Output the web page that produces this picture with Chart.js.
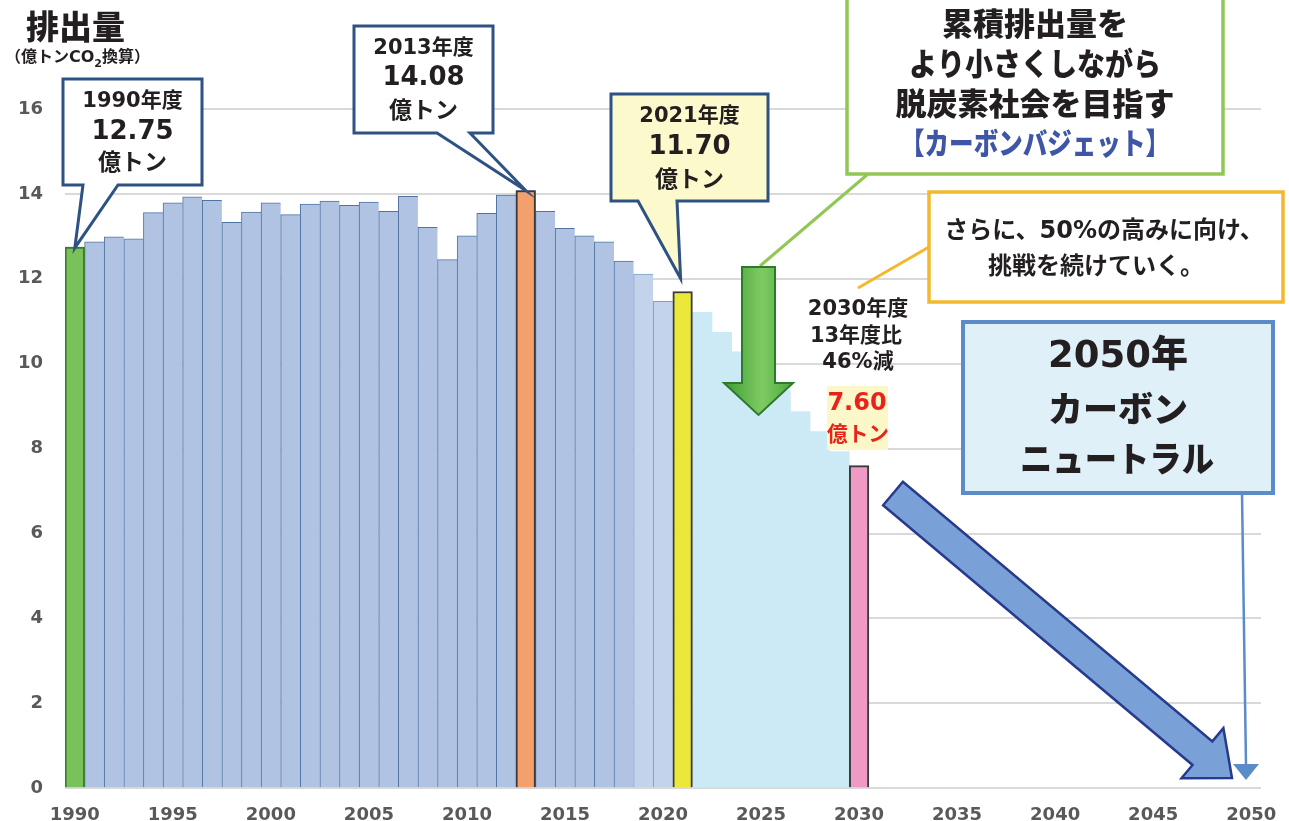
<!DOCTYPE html>
<html lang="ja">
<head>
<meta charset="utf-8">
<title>排出量</title>
<script src="https://cdn.jsdelivr.net/npm/chart.js@4.4.1/dist/chart.umd.min.js"></script>
<style>
  html, body { margin: 0; padding: 0; background: #fff; }
  canvas { display: block; }
</style>
</head>
<body>
<canvas id="emissionsChart" width="1289" height="821"></canvas>
<script>
// categories (fiscal years)
const years = [
  '1990','1991','1992','1993','1994','1995','1996','1997','1998','1999',
  '2000','2001','2002','2003','2004','2005','2006','2007','2008','2009',
  '2010','2011','2012','2013','2014','2015','2016','2017','2018','2019',
  '2020','2021','2022','2023','2024','2025','2026','2027','2028','2029',
  '2030','2031','2032','2033','2034','2035','2036','2037','2038','2039',
  '2040','2041','2042','2043','2044','2045','2046','2047','2048','2049',
  '2050'
];
const tickYears = ['1990','1995','2000','2005','2010','2015','2020','2025','2030','2035','2040','2045','2050'];

// actual emissions 1990-2020 (億トンCO2)
const historyYears = years.slice(0, 31);
const historyValues = [
  12.75, 12.87, 12.99, 12.94, 13.56, 13.79, 13.93, 13.85, 13.33, 13.57,
  13.79, 13.51, 13.76, 13.83, 13.73, 13.81, 13.59, 13.94, 13.21, 12.45,
  13.01, 13.54, 13.97, 14.08, 13.59, 13.19, 13.01, 12.87, 12.42, 12.11,
  11.47
];
const lightYears = ['2019', '2020'];

// reduction path toward 2030
const pathwayYears = ['2022','2023','2024','2025','2026','2027','2028','2029'];
const pathwayValues = [11.21, 10.74, 10.28, 9.82, 9.37, 8.87, 8.40, 7.93];

// highlighted years
const markYears = ['1990', '2013', '2021', '2030'];
const markValues = [12.75, 14.08, 11.70, 7.60];
const markColors = ['#79c25a', '#f4a06c', '#ece83a', '#ee9ac4'];
const markBorders = ['#3c7d2d', '#3a3a3a', '#3a3a3a', '#3a3a3a'];

const LATIN_JP = "'DejaVu Sans', 'Noto Sans CJK JP', sans-serif";
const JP = "'Noto Sans CJK JP', sans-serif";

function text(ctx, str, x, y, font, color, maxW, align) {
    ctx.font = font;
    ctx.fillStyle = color;
    ctx.textAlign = align || 'center';
    ctx.textBaseline = 'middle';
    if (maxW) ctx.fillText(str, x, y, maxW);
    else ctx.fillText(str, x, y);
}

function callout(ctx, box, tailL, tailR, tip, fill, stroke) {
    ctx.beginPath();
    ctx.moveTo(box.l, box.t);
    ctx.lineTo(box.r, box.t);
    ctx.lineTo(box.r, box.b);
    ctx.lineTo(tailR, box.b);
    ctx.lineTo(tip.x, tip.y);
    ctx.lineTo(tailL, box.b);
    ctx.lineTo(box.l, box.b);
    ctx.closePath();
    ctx.fillStyle = fill;
    ctx.fill();
    ctx.lineWidth = 3;
    ctx.lineJoin = 'miter';
    ctx.strokeStyle = stroke;
    ctx.stroke();
}

function line(ctx, x1, y1, x2, y2, color, w) {
    ctx.beginPath();
    ctx.moveTo(x1, y1);
    ctx.lineTo(x2, y2);
    ctx.strokeStyle = color;
    ctx.lineWidth = w;
    ctx.stroke();
}

function blockArrow(ctx, from, to, shaftHalf, headHalf, headLen, fill, stroke) {
    const dx = to.x - from.x, dy = to.y - from.y;
    const len = Math.hypot(dx, dy);
    const ux = dx / len, uy = dy / len;
    const nx = -uy, ny = ux;
    const bx = to.x - ux * headLen, by = to.y - uy * headLen;
    const pts = [
        [from.x + nx * shaftHalf, from.y + ny * shaftHalf],
        [bx + nx * shaftHalf, by + ny * shaftHalf],
        [bx + nx * headHalf, by + ny * headHalf],
        [to.x, to.y],
        [bx - nx * headHalf, by - ny * headHalf],
        [bx - nx * shaftHalf, by - ny * shaftHalf],
        [from.x - nx * shaftHalf, from.y - ny * shaftHalf]
    ];
    ctx.beginPath();
    pts.forEach((p, i) => i ? ctx.lineTo(p[0], p[1]) : ctx.moveTo(p[0], p[1]));
    ctx.closePath();
    ctx.fillStyle = fill;
    ctx.fill();
    ctx.lineWidth = 2.5;
    ctx.lineJoin = 'miter';
    ctx.strokeStyle = stroke;
    ctx.stroke();
}

const annotations = {
    id: 'annotations',
    afterDraw(chart) {
        const ctx = chart.ctx;
        const xs = chart.scales.x, ys = chart.scales.y;
        const top = (yr) => ({
            x: xs.getPixelForValue(years.indexOf(yr)),
            y: ys.getPixelForValue(markValues[markYears.indexOf(yr)])
        });
        ctx.save();

        // axis title
        text(ctx, '排出量', 26, 26, `900 33px ${JP}`, '#231f20', null, 'left');
        const p1 = '（億トンCO';
        text(ctx, p1, 5, 58, `bold 16px ${LATIN_JP}`, '#231f20', null, 'left');
        ctx.font = `bold 16px ${LATIN_JP}`;
        let w = ctx.measureText(p1).width;
        text(ctx, '2', 5 + w, 64, `bold 11px ${LATIN_JP}`, '#231f20', null, 'left');
        ctx.font = `bold 11px ${LATIN_JP}`;
        w += ctx.measureText('2').width;
        text(ctx, '換算）', 5 + w, 58, `bold 16px ${LATIN_JP}`, '#231f20', null, 'left');

        // callouts
        const navy = '#2e5283';
        const t90 = top('1990');
        callout(ctx, {l: 63, r: 202, t: 79, b: 185}, 83, 118, {x: t90.x, y: t90.y + 1}, '#ffffff', navy);
        text(ctx, '1990年度', 132.5, 102, `bold 21px ${LATIN_JP}`, '#231f20');
        text(ctx, '12.75', 132.5, 132, `bold 26px ${LATIN_JP}`, '#231f20');
        text(ctx, '億トン', 132.5, 161, `bold 23px ${JP}`, '#231f20');

        const t13 = top('2013');
        callout(ctx, {l: 354, r: 493, t: 26, b: 133}, 437, 470, {x: t13.x, y: t13.y}, '#ffffff', navy);
        text(ctx, '2013年度', 423.5, 49, `bold 21px ${LATIN_JP}`, '#231f20');
        text(ctx, '14.08', 423.5, 78, `bold 26px ${LATIN_JP}`, '#231f20');
        text(ctx, '億トン', 423.5, 109, `bold 23px ${JP}`, '#231f20');

        const t21 = top('2021');
        callout(ctx, {l: 611, r: 768, t: 94, b: 201}, 638, 677, {x: t21.x - 2, y: t21.y - 13}, '#fcf9cc', navy);
        text(ctx, '2021年度', 689.5, 117, `bold 21px ${LATIN_JP}`, '#231f20');
        text(ctx, '11.70', 689.5, 147, `bold 26px ${LATIN_JP}`, '#231f20');
        text(ctx, '億トン', 689.5, 178, `bold 23px ${JP}`, '#231f20');

        // carbon budget box
        line(ctx, 868, 174, 760, 266, '#92c755', 3);
        ctx.fillStyle = '#ffffff';
        ctx.fillRect(847, -5, 376, 179);
        ctx.lineWidth = 3.5;
        ctx.strokeStyle = '#92c755';
        ctx.strokeRect(847, -5, 376, 179);
        text(ctx, '累積排出量を', 1035, 23, `900 31px ${JP}`, '#231f20', 196);
        text(ctx, 'より小さくしながら', 1035, 63, `900 31px ${JP}`, '#231f20', 252);
        text(ctx, '脱炭素社会を目指す', 1035, 103, `900 31px ${JP}`, '#231f20', 292);
        text(ctx, '【カーボンバジェット】', 1035, 143, `900 30px ${JP}`, '#3f55a8', 270);

        // 50% box
        line(ctx, 929, 247, 858, 288, '#f2b82e', 3);
        ctx.fillStyle = '#ffffff';
        ctx.fillRect(929, 192, 354, 110);
        ctx.lineWidth = 3.5;
        ctx.strokeStyle = '#f2b82e';
        ctx.strokeRect(929, 192, 354, 110);
        text(ctx, 'さらに、50%の高みに向け、', 1104, 232, `bold 24px ${LATIN_JP}`, '#231f20', 332);
        text(ctx, '挑戦を続けていく。', 1096, 265, `bold 24px ${JP}`, '#231f20', 222);

        // green down arrow
        const g = ctx.createLinearGradient(724, 0, 793, 0);
        g.addColorStop(0, '#3f9b36');
        g.addColorStop(0.55, '#7fcb63');
        g.addColorStop(1, '#4aa83e');
        ctx.beginPath();
        ctx.moveTo(742, 267);
        ctx.lineTo(775, 267);
        ctx.lineTo(775, 383);
        ctx.lineTo(793, 383);
        ctx.lineTo(758.5, 415);
        ctx.lineTo(724, 383);
        ctx.lineTo(742, 383);
        ctx.closePath();
        ctx.fillStyle = g;
        ctx.fill();
        ctx.lineWidth = 2;
        ctx.strokeStyle = '#2d7a2a';
        ctx.stroke();

        // 2030 target text
        text(ctx, '2030年度', 858, 310, `bold 21px ${LATIN_JP}`, '#231f20', 110);
        text(ctx, '13年度比', 856, 337, `bold 21px ${LATIN_JP}`, '#231f20', 100);
        text(ctx, '46%減', 858, 363, `bold 21px ${LATIN_JP}`, '#231f20', 90);
        ctx.fillStyle = '#fbf7c9';
        ctx.fillRect(827, 386, 61, 64);
        text(ctx, '7.60', 857, 404, `bold 24px ${LATIN_JP}`, '#e8231a', 60);
        text(ctx, '億トン', 858, 433, `bold 21px ${JP}`, '#e8231a', 62);

        // big blue arrow
        blockArrow(ctx, {x: 893, y: 493.5}, {x: 1232, y: 778}, 15.4, 32.6, 38.6, '#7aa0d8', '#283a8e');

        // 2050 box and pointer
        line(ctx, 1242, 493, 1246, 766, '#5b8bc9', 2.5);
        ctx.beginPath();
        ctx.moveTo(1233, 764);
        ctx.lineTo(1259, 764);
        ctx.lineTo(1246, 780);
        ctx.closePath();
        ctx.fillStyle = '#5b8bc9';
        ctx.fill();
        ctx.fillStyle = '#dff0f9';
        ctx.fillRect(963, 322, 310, 171);
        ctx.lineWidth = 4;
        ctx.strokeStyle = '#5b8bc9';
        ctx.strokeRect(963, 322, 310, 171);
        text(ctx, '2050年', 1118, 357, `900 37px ${LATIN_JP}`, '#231f20', 152);
        text(ctx, 'カーボン', 1118, 409, `900 35px ${JP}`, '#231f20', 142);
        text(ctx, 'ニュートラル', 1117, 459, `900 35px ${JP}`, '#231f20', 194);

        ctx.restore();
    }
};

new Chart(document.getElementById('emissionsChart').getContext('2d'), {
    type: 'bar',
    data: {
        labels: years,
        datasets: [
            {
                label: '基準年・目標',
                data: markYears.map((yr, i) => ({ x: yr, y: markValues[i] })),
                backgroundColor: markColors,
                borderColor: markBorders,
                borderWidth: 2,
                borderSkipped: 'bottom',
                barPercentage: 1,
                categoryPercentage: 1,
                grouped: false,
                order: 0
            },
            {
                label: '排出量',
                data: historyYears.map((yr, i) => ({ x: yr, y: historyValues[i] })),
                backgroundColor: ctx => lightYears.includes(historyYears[ctx.dataIndex]) ? '#c3d3eb' : '#b0c3e3',
                borderColor: ctx => lightYears.includes(historyYears[ctx.dataIndex]) ? '#7d9ec8' : '#4f74a3',
                borderWidth: { top: 1, left: 1, right: 0, bottom: 0 },
                barPercentage: 1,
                categoryPercentage: 1,
                grouped: false,
                order: 1
            },
            {
                label: '削減経路',
                data: pathwayYears.map((yr, i) => ({ x: yr, y: pathwayValues[i] })),
                backgroundColor: '#cce9f6',
                borderWidth: 0,
                barPercentage: 1,
                categoryPercentage: 1,
                grouped: false,
                order: 2
            }
        ]
    },
    options: {
        responsive: false,
        animation: false,
        layout: { padding: { top: 109, right: 28, bottom: 0, left: 0 } },
        plugins: {
            legend: { display: false },
            tooltip: { enabled: false }
        },
        scales: {
            x: {
                grid: { display: false },
                border: { display: false },
                afterFit: s => { s.height = 32; },
                ticks: {
                    autoSkip: false,
                    maxRotation: 0,
                    padding: 8,
                    color: '#595959',
                    font: { family: 'DejaVu Sans', size: 18, weight: 'bold' },
                    callback: (v, i) => tickYears.includes(years[i]) ? years[i] : ''
                }
            },
            y: {
                min: 0,
                max: 16,
                afterFit: s => { s.width = 65; },
                grid: { color: '#d9d9d9', lineWidth: 2, drawTicks: false },
                border: { display: false },
                ticks: {
                    stepSize: 2,
                    padding: 22,
                    crossAlign: 'near',
                    color: '#595959',
                    font: { family: 'DejaVu Sans', size: 18, weight: 'bold' }
                }
            }
        }
    },
    plugins: [annotations]
});
</script>
</body>
</html>
